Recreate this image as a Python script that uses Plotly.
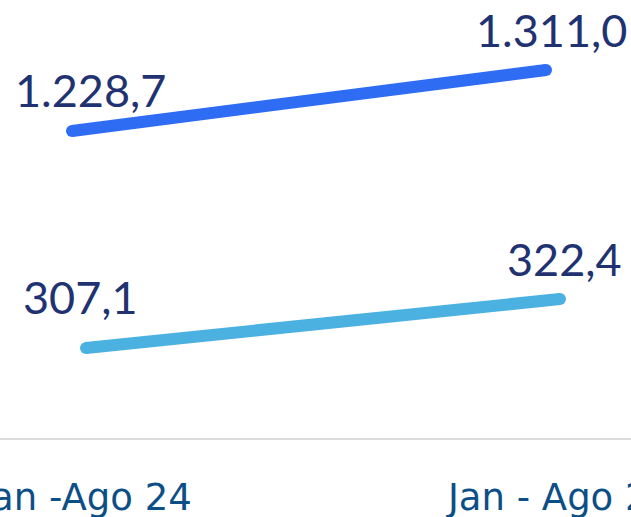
import plotly.graph_objects as go

categories = ["Jan -Ago 24", "Jan - Ago 25"]
serie_total = [1228.7, 1311.0]
serie_parcial = [307.1, 322.4]

def fmt(v):
    s = f"{v:,.1f}"
    return s.replace(",", "X").replace(".", ",").replace("X", ".")

x_idx = list(range(len(categories)))
label_font = dict(family="Lato, Roboto, sans-serif", size=45, color="#1f3271")

fig = go.Figure()
fig.add_trace(go.Scatter(
    x=x_idx, y=serie_parcial, mode="lines+markers",
    line=dict(color="#4ab1e1", width=12),
    marker=dict(color="#4ab1e1", size=12),
    showlegend=False, hoverinfo="skip",
    xaxis="x", yaxis="y",
))
fig.add_trace(go.Scatter(
    x=x_idx, y=serie_total, mode="lines+markers",
    line=dict(color="#2f6cf4", width=12),
    marker=dict(color="#2f6cf4", size=12),
    showlegend=False, hoverinfo="skip",
    xaxis="x2", yaxis="y2",
))

# value labels (label placement tweaks: x shift / y shift in px)
annotations = []
for i, v in enumerate(serie_total):
    annotations.append(dict(
        x=x_idx[i], y=v, xref="x2", yref="y2", text=fmt(v), showarrow=False,
        xanchor="center", yanchor="bottom", font=label_font,
        xshift=[18, 5][i], yshift=[12, 11][i],
    ))
for i, v in enumerate(serie_parcial):
    annotations.append(dict(
        x=x_idx[i], y=v, xref="x", yref="y", text=fmt(v), showarrow=False,
        xanchor="center", yanchor="bottom", font=label_font,
        xshift=[-6, 4][i], yshift=[22, 11][i],
    ))

px_unit = 474.0
r0 = -86 / px_unit
r1 = (631 - 86) / px_unit
shift = 14 / px_unit

fig.update_layout(
    width=631, height=517,
    margin=dict(l=0, r=0, t=0, b=79),
    paper_bgcolor="white", plot_bgcolor="white",
    annotations=annotations,
    xaxis=dict(
        range=[r0, r1], tickmode="array", tickvals=x_idx, ticktext=categories,
        showgrid=False, zeroline=False, showline=True, linecolor="#dcdcdc", linewidth=2,
        ticks="", tickfont=dict(family="DejaVu Sans, sans-serif", size=37, color="#0c4f87"),
        ticklabelstandoff=26, ticklabeloverflow="allow", automargin=False,
    ),
    xaxis2=dict(
        range=[r0 + shift, r1 + shift], overlaying="x", visible=False, automargin=False,
    ),
    yaxis=dict(range=[279.0, 415.75], visible=False, automargin=False),
    yaxis2=dict(range=[814.5, 1405.4], overlaying="y", visible=False, automargin=False),
)

fig.write_html(
    "out.html",
    config={"displayModeBar": False},
    post_script="document.body.style.margin='0';document.body.style.overflow='hidden';",
)
